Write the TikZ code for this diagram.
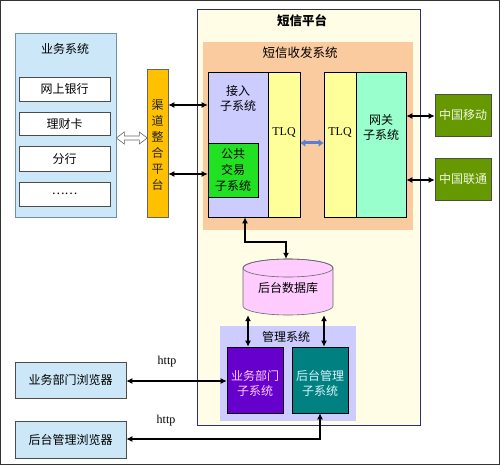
\documentclass[tikz,border=0pt]{standalone}
\usepackage{fontspec}
\setmainfont{Liberation Serif}
\newfontfamily\cjk{Noto Sans CJK SC}
\usetikzlibrary{arrows.meta}
\definecolor{bizblue}{HTML}{CCE8F8}
\definecolor{bizedge}{HTML}{6F8FAF}
\definecolor{chan}{HTML}{FFC000}
\definecolor{plat}{HTML}{FFFDE6}
\definecolor{platedge}{HTML}{2F2F6F}
\definecolor{peach}{HTML}{FACB9E}
\definecolor{lav}{HTML}{CCCCFF}
\definecolor{grn}{HTML}{22E022}
\definecolor{tlq}{HTML}{FFFF99}
\definecolor{mint}{HTML}{99FFCC}
\definecolor{olive}{HTML}{669900}
\definecolor{dbpink}{HTML}{FFCCFF}
\definecolor{purp}{HTML}{6600CC}
\definecolor{teal2}{HTML}{008080}
\definecolor{bluearr}{HTML}{5B7FD6}
\tikzset{
  txt/.style={font=\cjk\fontsize{12}{15}\selectfont, align=center, inner sep=0pt},
  bx/.style={draw=black, line width=0.6pt, inner sep=0pt},
  conn/.style={line width=1.8pt, {Latex[length=6pt,width=6pt]}-{Latex[length=6pt,width=6pt]}},
}
\begin{document}
\begin{tikzpicture}[x=1pt,y=-1pt]
\useasboundingbox (0,0) rectangle (500,465);
\fill[white] (0,0) rectangle (500,465);
\draw[line width=1pt, black!80] (0.5,0.5) rectangle (499.5,464.5);

% business system
\node[bx, draw=bizedge, fill=bizblue, minimum width=101pt, minimum height=184pt] (biz) at (65.5,125) {};
\node[txt] (biztitle) at (65,49) {业务系统};
\foreach \n/\y/\h/\t in {b1/89/24/网上银行, b2/123.5/23/理财卡, b3/158.5/25/分行, b4/194/24/……}{
  \node[bx, draw=black!70, fill=white, minimum width=91pt, minimum height=\h pt, txt] (\n) at (64.5,\y) {\t};
}

% channel
\node[bx, draw=black!60, fill=chan, minimum width=21pt, minimum height=148pt] (chan) at (157.5,143) {};
\node[txt, font=\cjk\fontsize{12}{16}\selectfont, text=black!85] (chantext) at (157.5,145) {渠\\道\\整\\合\\平\\台};

% hollow double arrow
\draw[fill=white, draw=black!60, line width=0.6pt]
  (biz.east |- 0,138) -- ++(8,-6) -- ++(0,4) -- ++(15,0) -- ++(0,-4) -- ++(8,6)
  -- ++(-8,6) -- ++(0,-4) -- ++(-15,0) -- ++(0,4) -- cycle;

% SMS platform
\node[bx, draw=platedge, line width=0.9pt, fill=plat, minimum width=223pt, minimum height=416pt] (plat) at (308.5,217) {};
\node[txt, font=\cjk\bfseries\fontsize{12.5}{15}\selectfont] (plattitle) at (302,21) {短信平台};
\node[fill=peach, inner sep=0pt, minimum width=210pt, minimum height=188pt] (sms) at (308,136) {};
\node[txt, font=\cjk\fontsize{12.5}{15}\selectfont] (smstitle) at (300,53) {短信收发系统};

\node[bx, fill=lav, minimum width=60pt, minimum height=145pt] (acc) at (238,144.5) {};
\node[txt] (acctext) at (238,98) {接入\\子系统};
\node[bx, fill=grn, minimum width=50pt, minimum height=54pt, txt, font=\cjk\fontsize{12}{16}\selectfont] (pub) at (233,170) {公共\\交易\\子系统};
\node[bx, fill=tlq, minimum width=32pt, minimum height=145pt] (tlq1) at (284,144.5) {};
\node[inner sep=0pt, font=\fontsize{12}{14}\selectfont] (tlq1t) at (284,133) {TLQ};
\node[bx, fill=tlq, minimum width=32pt, minimum height=145pt] (tlq2) at (340,144.5) {};
\node[inner sep=0pt, font=\fontsize{12}{14}\selectfont] (tlq2t) at (340,133) {TLQ};
\node[bx, fill=mint, minimum width=50pt, minimum height=145pt] (gw) at (381,144.5) {};
\node[txt] (gwtext) at (381,127) {网关\\子系统};

\draw[line width=3pt, draw=bluearr, {Latex[length=5pt,width=8pt]}-{Latex[length=5pt,width=8pt]}]
  (tlq1.east |- 0,143) -- (tlq2.west |- 0,143);

% carriers
\node[bx, draw=black!70, fill=olive, minimum width=56pt, minimum height=42pt, txt, text=white!90!olive] (cm) at (463,115) {中国移动};
\node[bx, draw=black!70, fill=olive, minimum width=56pt, minimum height=42pt, txt, text=white!90!olive] (cu) at (463,179) {中国联通};
\draw[conn] (gw.east |- 0,116) -- (cm.west |- 0,116);
\draw[conn] (gw.east |- 0,180) -- (cu.west |- 0,180);

% channel to access / public
\draw[conn] (chan.east |- 0,105) -- (acc.west |- 0,105);
\draw[conn] (chan.east |- 0,174) -- (pub.west |- 0,174);

% database (cylinder drawn directly)
\filldraw[fill=dbpink, draw=black!60, line width=0.6pt]
  (243,268) -- (243,306) arc[start angle=180, end angle=0, x radius=45, y radius=9]
  -- (333,268) arc[start angle=0, end angle=-180, x radius=45, y radius=9] -- cycle;
\draw[draw=black!60, line width=0.6pt] (288,268) ellipse[x radius=45, y radius=9];
\node[inner sep=0pt, minimum width=90pt, minimum height=56pt] (db) at (288,287) {};
\node[txt] (dbtext) at (288,288) {后台数据库};
\draw[conn] (245,0 |- acc.south) -- (245,242) -- (286,242) -- (286,0 |- db.north);

% management system
\node[fill=lav, inner sep=0pt, minimum width=136pt, minimum height=95pt] (mgmt) at (288,373.5) {};
\node[txt] (mgmttitle) at (286,337) {管理系统};
\node[bx, fill=purp, minimum width=56pt, minimum height=66pt] (bd) at (255,380) {};
\node[txt, text=dbpink] (bdtext) at (255,383) {业务部门\\子系统};
\node[bx, fill=teal2, minimum width=56pt, minimum height=66pt] (bm) at (320,380) {};
\node[txt, text=white!85!cyan] (bmtext) at (320,383) {后台管理\\子系统};

\draw[conn] (248,0 |- db.south) -- (248,0 |- bd.north);
\draw[conn] (324,0 |- db.south) -- (324,0 |- bm.north);

% browsers
\node[bx, draw=black!70, fill=bizblue, minimum width=111pt, minimum height=36pt, txt] (br1) at (70.5,380) {业务部门浏览器};
\node[bx, draw=black!70, fill=bizblue, minimum width=111pt, minimum height=37pt, txt] (br2) at (70.5,439.5) {后台管理浏览器};
\draw[conn] (br1.east |- 0,381) -- (bd.west |- 0,381);
\draw[conn] (320,0 |- bm.south) -- (320,439) -- (br2.east |- 0,439);
\node[inner sep=0pt, font=\fontsize{12}{14}\selectfont] (http1) at (167,362) {http};
\node[inner sep=0pt, font=\fontsize{12}{14}\selectfont] (http2) at (166,421) {http};
\end{tikzpicture}
\end{document}
